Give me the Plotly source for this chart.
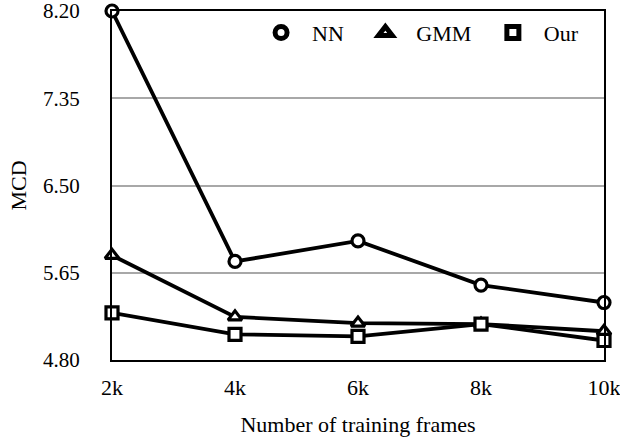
import plotly.graph_objects as go

categories = ["2k", "4k", "6k", "8k", "10k"]
nn = [8.20, 5.76, 5.96, 5.53, 5.36]
gmm = [5.82, 5.22, 5.16, 5.15, 5.08]
our = [5.26, 5.05, 5.03, 5.15, 4.99]
y_ticks = [4.80, 5.65, 6.50, 7.35, 8.20]

FONT = "Liberation Serif"
NB = "\u00a0"
series = [("NN", nn, "circle"), ("GMM", gmm, "triangle-up"), ("Our", our, "square")]

fig = go.Figure()
for name, vals, sym in series:
    fig.add_trace(go.Scatter(
        x=categories, y=vals, mode="lines+markers", name=name, showlegend=False,
        line=dict(color="black", width=3.8),
        marker=dict(symbol=sym, size=12, color="white", line=dict(width=3.2, color="black")),
        cliponaxis=False,
    ))
for name, vals, sym in series:
    fig.add_trace(go.Scatter(
        x=[None], y=[None], mode="markers", name=NB * 2 + name + NB * 3, showlegend=True,
        marker=dict(symbol=sym, size=12, color="white", line=dict(width=5, color="black")),
    ))

fig.update_layout(
    width=620, height=437,
    margin=dict(l=112, r=16, t=11, b=77),
    paper_bgcolor="white", plot_bgcolor="white",
    font=dict(family=FONT, size=22, color="black"),
    legend=dict(orientation="h", x=0.303, xanchor="left", y=0.998, yanchor="top",
                bgcolor="rgba(0,0,0,0)", font=dict(size=22)),
    xaxis=dict(
        type="category", range=[0, 4], showline=True, mirror=True, linecolor="black", linewidth=2,
        showgrid=False, ticks="", ticklabelstandoff=7, automargin=False,
        ticklabeloverflow="allow",
        title=dict(text="Number of training frames", standoff=20, font=dict(size=22)),
    ),
    yaxis=dict(
        range=[4.80, 8.20], tickvals=y_ticks, tickformat=".2f",
        showline=True, mirror=True, linecolor="black", linewidth=2,
        showgrid=True, gridcolor="#a8a8a8", gridwidth=2, zeroline=False,
        ticks="outside", ticklen=26, tickcolor="rgba(0,0,0,0)", automargin=False,
        ticklabeloverflow="allow", tickfont=dict(size=21),
        title=dict(text="MCD", standoff=10, font=dict(size=22)),
    ),
)

fig.write_html("out.html")
